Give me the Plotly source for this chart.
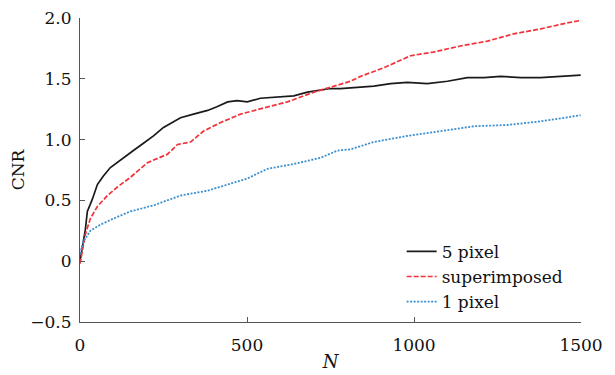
import plotly.graph_objects as go

# 5 pixel
n_black = [0, 5, 10, 16, 22, 37, 52, 70, 91, 110, 130, 160, 190, 220, 250, 275, 301, 340, 382, 410, 442, 470, 501, 540, 600, 640, 681, 720, 750, 780, 840, 880, 930, 980, 1040, 1100, 1160, 1210, 1259, 1320, 1379, 1440, 1499]
v_black = [0.0, 0.08, 0.18, 0.26, 0.41, 0.51, 0.63, 0.70, 0.77, 0.81, 0.85, 0.91, 0.97, 1.03, 1.10, 1.14, 1.18, 1.21, 1.24, 1.27, 1.31, 1.32, 1.31, 1.34, 1.35, 1.36, 1.39, 1.41, 1.42, 1.42, 1.43, 1.44, 1.46, 1.47, 1.46, 1.48, 1.51, 1.51, 1.52, 1.51, 1.51, 1.52, 1.53]

# superimposed
n_red = [0, 8, 16, 31, 52, 82, 112, 151, 202, 262, 292, 331, 370, 421, 481, 550, 621, 700, 771, 810, 840, 909, 990, 1058, 1139, 1220, 1299, 1379, 1459, 1499]
v_red = [-0.02, 0.10, 0.22, 0.35, 0.45, 0.54, 0.61, 0.69, 0.81, 0.88, 0.96, 0.98, 1.07, 1.14, 1.21, 1.26, 1.31, 1.39, 1.45, 1.48, 1.52, 1.59, 1.69, 1.72, 1.77, 1.81, 1.87, 1.91, 1.96, 1.98]

# 1 pixel
n_blue = [0, 10, 31, 61, 100, 151, 221, 301, 382, 451, 501, 561, 641, 720, 771, 810, 879, 980, 1079, 1179, 1279, 1379, 1499]
v_blue = [0.06, 0.16, 0.25, 0.30, 0.35, 0.41, 0.46, 0.54, 0.58, 0.64, 0.68, 0.76, 0.80, 0.85, 0.91, 0.92, 0.98, 1.03, 1.07, 1.11, 1.12, 1.15, 1.20]

x_ticks = [0, 500, 1000, 1500]
x_ticktext = ["0", "500", "1000", "1500"]
y_ticks = [-0.5, 0, 0.5, 1.0, 1.5, 2.0]
y_ticktext = ["\u22120.5", "0", "0.5", "1.0", "1.5", "2.0"]

FONT = "DejaVu Serif, Liberation Serif, serif"

fig = go.Figure()
fig.add_trace(go.Scatter(x=n_black, y=v_black, mode="lines", name="5 pixel",
                         line=dict(color="#1a1a1a", width=1.7)))
fig.add_trace(go.Scatter(x=n_red, y=v_red, mode="lines", name="superimposed",
                         line=dict(color="#f2323a", width=1.7, dash="5px,2px")))
fig.add_trace(go.Scatter(x=n_blue, y=v_blue, mode="lines", name="1 pixel",
                         line=dict(color="#3a8fd0", width=1.8, dash="2px,1.5px")))

axis_common = dict(showgrid=False, zeroline=False, showline=True, linecolor="#555555",
                   linewidth=1, ticks="inside", ticklen=5, tickcolor="#555555",
                   automargin=False, ticklabeloverflow="allow",
                   tickfont=dict(family=FONT, size=17, color="#111111"))

fig.update_layout(
    width=615, height=375,
    margin=dict(l=72, r=42, t=10, b=61),
    paper_bgcolor="white", plot_bgcolor="white",
    font=dict(family=FONT, size=17, color="#111111"),
    xaxis=dict(range=[0, 1500], tickvals=x_ticks, ticktext=x_ticktext,
               ticklabelstandoff=8,
               title=dict(text="<i>N</i>", font=dict(family=FONT, size=18), standoff=0),
               **axis_common),
    yaxis=dict(range=[-0.5, 2.0], tickvals=y_ticks, ticktext=y_ticktext,
               ticklabelstandoff=4,
               title=dict(text="CNR", font=dict(family=FONT, size=17), standoff=6),
               **axis_common),
    legend=dict(x=0.642, y=0.29, xanchor="left", yanchor="top",
                bgcolor="rgba(0,0,0,0)", font=dict(family=FONT, size=17),
                tracegroupgap=0, itemwidth=30),
    showlegend=True,
)

fig.write_html("out.html")
